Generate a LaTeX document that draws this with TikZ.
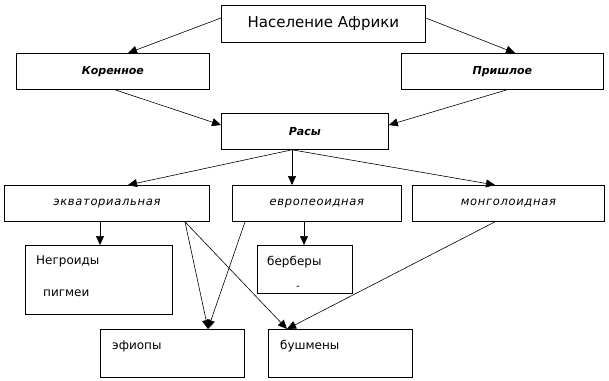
\documentclass[tikz,border=0pt]{standalone}
\usepackage{fontspec}
\setmainfont{DejaVu Sans}
\newfontfamily\spacedfont[LetterSpace=6]{DejaVu Sans}
\usetikzlibrary{arrows.meta}
\tikzset{
  x=1pt, y=1pt,
  box/.style={draw, line width=0.8pt, inner sep=0pt, anchor=north west},
  lbl/.style={inner sep=0pt, anchor=west, font=\fontsize{12}{14}\selectfont},
  bi/.style={font=\fontsize{11}{13}\selectfont\bfseries\itshape},
  it/.style={font=\fontsize{11.5}{13}\selectfont\spacedfont\itshape},
  conn/.style={line width=0.6pt, -{Triangle[length=9pt,width=8pt]}},
}
\begin{document}
\begin{tikzpicture}
\fill[white] (0,0) rectangle (609,-380);
\useasboundingbox (0,0) rectangle (609,-380);

\node[box, minimum width=204, minimum height=37, font=\fontsize{15}{17}\selectfont] (top) at (221,-5) {Население Африки};
\node[box, minimum width=193, minimum height=36, bi] (kor) at (16,-53) {Коренное};
\node[box, minimum width=202, minimum height=36, bi] (pri) at (401,-53) {Пришлое};
\node[box, minimum width=167, minimum height=36, bi] (ras) at (221,-113) {Расы};
\node[box, minimum width=205, minimum height=36, it] (ekv) at (4,-185) {экваториальная};
\node[box, minimum width=169, minimum height=36, it] (evr) at (232,-185) {европеоидная};
\node[box, minimum width=192, minimum height=36, it] (mon) at (412,-185) {монголоидная};
\node[box, minimum width=147, minimum height=69] (neg) at (25,-245) {};
\node[box, minimum width=95, minimum height=48] (ber) at (257,-245) {};
\node[box, minimum width=144, minimum height=48] (efi) at (100,-329) {};
\node[box, minimum width=144, minimum height=48] (bus) at (268,-329) {};

\node[lbl] (negt) at (36,-261) {Негроиды};
\node[lbl] (pigt) at (43,-293) {пигмеи};
\node[lbl] (bert) at (267,-262) {берберы};
\node[inner sep=0pt, font=\fontsize{10}{11}\selectfont] (dash) at (298,-288) {-};
\node[lbl] (efit) at (112,-346) {эфиопы};
\node[lbl] (bust) at (280,-346) {бушмены};

\draw[conn] ([yshift=-13]top.north west) -- ([xshift=112]kor.north west);
\draw[conn] ([yshift=-13]top.north east) -- ([xshift=114]pri.north west);
\draw[conn] ([xshift=99]kor.south west) -- ([yshift=-12]ras.north west);
\draw[conn] ([xshift=106]pri.south west) -- ([yshift=-12]ras.north east);
\draw[conn] ([xshift=71]ras.south west) -- ([xshift=124]ekv.north west);
\draw[conn] ([xshift=71]ras.south west) -- ([xshift=60]evr.north west);
\draw[conn] ([xshift=71]ras.south west) -- ([xshift=83]mon.north west);
\draw[conn] ([xshift=96]ekv.south west) -- ([xshift=75]neg.north west);
\draw[conn] ([xshift=72]evr.south west) -- ([xshift=47]ber.north west);
\draw[conn] ([xshift=181]ekv.south west) -- ([xshift=108]efi.north west);
\draw[conn] ([xshift=181]ekv.south west) -- ([xshift=19]bus.north west);
\draw[conn] ([xshift=13]evr.south west) -- ([xshift=108]efi.north west);
\draw[conn] ([xshift=83]mon.south west) -- ([xshift=19]bus.north west);
\end{tikzpicture}
\end{document}
